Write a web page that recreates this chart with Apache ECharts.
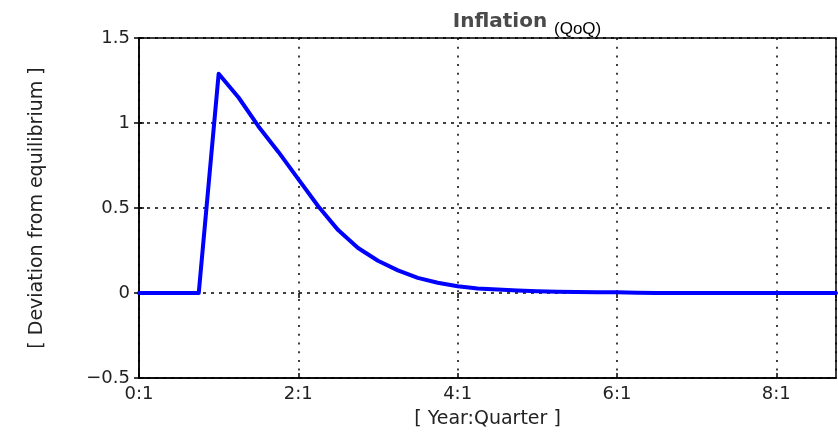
<!DOCTYPE html>
<html>
<head>
<meta charset="utf-8">
<script src="https://cdn.jsdelivr.net/npm/echarts@6/dist/echarts.min.js"></script>
<style>html,body{margin:0;padding:0;background:#fff;}#c{width:838px;height:434px;}</style>
</head>
<body>
<div id="c"></div>
<script>
// Quarter index (0 = 0:1, 4 quarters per year)
const quarters = [0,1,2,3,4,5,6,7,8,9,10,11,12,13,14,15,16,17,18,19,20,21,22,23,24,25,26,27,28,29,30,31,32,33,34,35];
// Inflation (QoQ), deviation from equilibrium
const inflation = [0,0,0,0,1.29,1.15,0.98,0.83,0.67,0.51,0.37,0.265,0.19,0.133,0.089,0.06,0.04,0.027,0.02,0.015,0.011,0.008,0.006,0.005,0.004,0.002,0,0,0,0,0,0,0,0,0,0];
const xTickLabels = ['0:1','2:1','4:1','6:1','8:1'];
const yTickLabels = ['\u22120.5','0','0.5','1','1.5'];
const yTickValues = [-0.5,0,0.5,1,1.5];

const chart = echarts.init(document.getElementById('c'), null, {renderer:'canvas'});
const labelFont = {fontFamily:'DejaVu Sans', fontSize:18, color:'#222'};
const option = {
  animation:false,
  backgroundColor:'#fff',
  title:[
    {text:'Inflation', left:495, top:7, textAlign:'center',
     textStyle:{fontFamily:'DejaVu Sans', fontSize:20, fontWeight:'bold', color:'#4a4a4a'}},
    {text:'(QoQ)', left:549, top:16,
     textStyle:{fontFamily:'Liberation Sans', fontSize:17, fontWeight:'normal', color:'#000'}}
  ],
  grid:{left:139, right:2, top:38, bottom:53, show:true, borderColor:'#000', borderWidth:1.5, containLabel:false},
  xAxis:[{
    type:'value', min:0, max:35, interval:8,
    name:'[ Year:Quarter ]', nameLocation:'middle', nameGap:32,
    nameTextStyle:{fontFamily:'DejaVu Sans', fontSize:19, color:'#222'},
    axisLine:{show:true, onZero:false, lineStyle:{color:'#000', width:1.5}},
    axisTick:{show:true, inside:true, length:5, lineStyle:{color:'#000', width:1.5}},
    axisLabel:Object.assign({margin:7, showMaxLabel:false,
      formatter:function(v){ const i=v/8; return Number.isInteger(i)&&xTickLabels[i]!==undefined?xTickLabels[i]:''; }}, labelFont),
    splitLine:{show:true, lineStyle:{color:'#000', width:1.5, type:[2,6.7]}}
  },{
    type:'value', min:0, max:35, interval:8, position:'top',
    axisLine:{show:false}, axisLabel:{show:false}, splitLine:{show:false},
    axisTick:{show:true, inside:true, length:5, lineStyle:{color:'#000', width:1.5}}
  }],
  yAxis:[{
    type:'value', min:-0.5, max:1.5, interval:0.5,
    name:'[ Deviation from equilibrium ]', nameLocation:'middle', nameGap:92,
    nameTextStyle:{fontFamily:'DejaVu Sans', fontSize:19, color:'#222'},
    axisLine:{show:true, lineStyle:{color:'#000', width:1.5}},
    axisTick:{show:true, inside:true, length:5, lineStyle:{color:'#000', width:1.5}},
    axisLabel:Object.assign({margin:9,
      formatter:function(v){ const i=yTickValues.findIndex(t=>Math.abs(t-v)<1e-9); return i>=0?yTickLabels[i]:''; }}, labelFont),
    splitLine:{show:true, lineStyle:{color:'#000', width:1.5, type:[3,5]}}
  },{
    type:'value', min:-0.5, max:1.5, interval:0.5, position:'right',
    axisLine:{show:false}, axisLabel:{show:false}, splitLine:{show:false},
    axisTick:{show:true, inside:true, length:5, lineStyle:{color:'#000', width:1.5}}
  }],
  series:[{
    type:'line', xAxisIndex:0, yAxisIndex:0,
    data:quarters.map((q,i)=>[q, inflation[i]]),
    showSymbol:false, symbol:'none',
    lineStyle:{color:'#0000ff', width:4, join:'round', cap:'round'},
    z:5
  }]
};
chart.setOption(option);
</script>
</body>
</html>
